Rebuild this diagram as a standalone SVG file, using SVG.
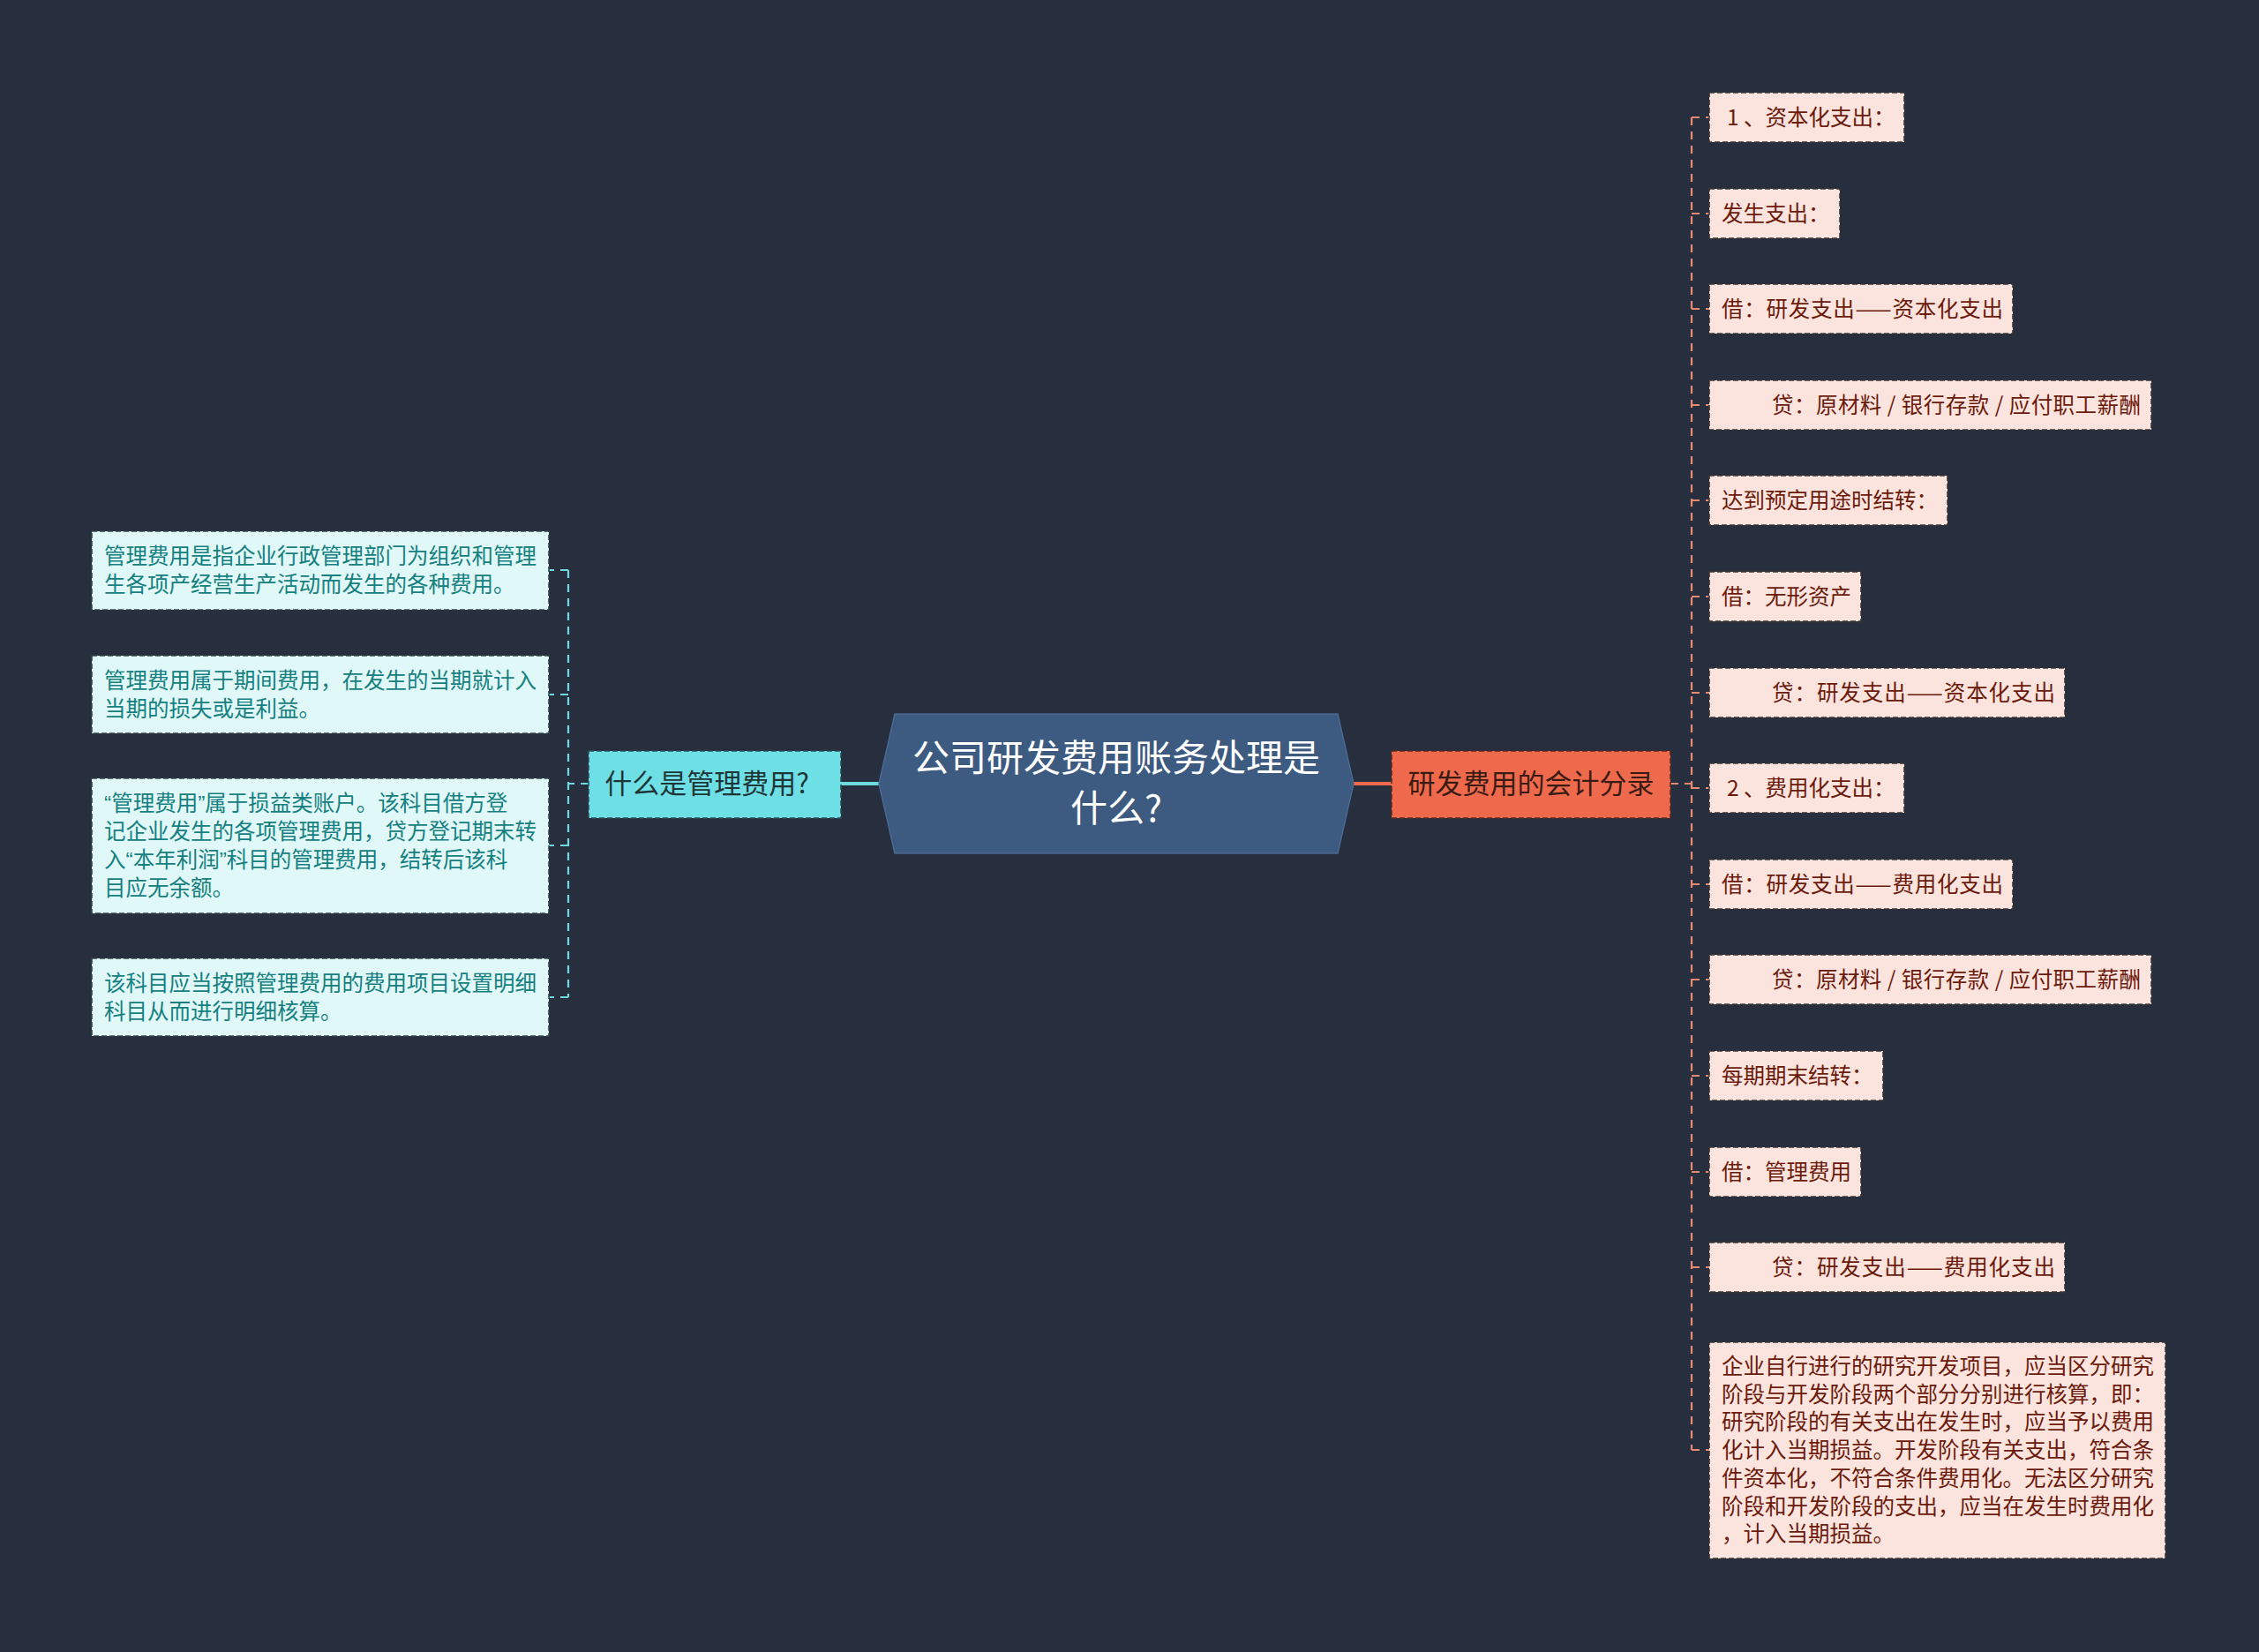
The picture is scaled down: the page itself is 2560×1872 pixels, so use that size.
<svg xmlns="http://www.w3.org/2000/svg" width="2560" height="1872" viewBox="0 0 2560 1872">
<style>
.t{font-family:"Noto Sans CJK SC","Noto Sans",sans-serif}
.q{font-family:"Liberation Sans",sans-serif}
.rc rect{fill:#FCE4DE;stroke:#3b3434;stroke-width:1.6;stroke-dasharray:6 3}
.rc text{fill:#6B1A0C;font-size:24.5px}
.lc rect{fill:#E0F8F8;stroke:#2f4447;stroke-width:1.6;stroke-dasharray:6 3}
.lc text{fill:#15807F;font-size:24.5px}
.cr{fill:none;stroke:#E88A70;stroke-width:2.2;stroke-dasharray:9 7}
.cl{fill:none;stroke:#6CD9E0;stroke-width:2.2;stroke-dasharray:9 7}
</style>
<rect width="2560" height="1872" fill="#272F3F"/>
<g id="connectors">
  <path d="M953 888 H996" fill="none" stroke="#6CD9E0" stroke-width="4"/>
  <path d="M1534 888 H1577" fill="none" stroke="#EF6A4C" stroke-width="4"/>
  <path class="cl" d="M667 888 H644"/>
  <path class="cl" d="M644 646 V1130"/>
  <path class="cl" d="M644 646 H622 M644 787 H622 M644 958 H622 M644 1130 H622"/>
  <path class="cr" d="M1893 888 H1917"/>
  <path class="cr" d="M1917 133 V1643"/>
  <path class="cr" d="M1917 133 H1937 M1917 242 H1937 M1917 350 H1937 M1917 459 H1937 M1917 567 H1937 M1917 676 H1937 M1917 785 H1937 M1917 893 H1937 M1917 1002 H1937 M1917 1110 H1937 M1917 1219 H1937 M1917 1328 H1937 M1917 1436 H1937 M1917 1643 H1937"/>
</g>
<g id="center">
  <polygon points="996,888 1014,809 1516,809 1534,888 1516,967 1014,967" fill="#3D5A80" stroke="#4a6890" stroke-width="1.5"/>
  <text class="t" x="1265" y="874" font-size="42" fill="#FFFFFF" text-anchor="middle">公司研发费用账务处理是</text>
  <text class="t" x="1265" y="931" font-size="42" fill="#FFFFFF" text-anchor="middle">什么?</text>
</g>
<g id="left-branch">
  <rect x="667" y="851" width="286" height="76" fill="#6EDFE4" stroke="#2a4e58" stroke-width="1.6" stroke-dasharray="6 3"/>
  <text class="t" x="801" y="899" font-size="31" fill="#1E3538" text-anchor="middle">什么是管理费用?</text>
</g>
<g id="right-branch">
  <rect x="1577" y="851" width="316" height="76" fill="#EF6A4C" stroke="#5a2a20" stroke-width="1.6" stroke-dasharray="6 3"/>
  <text class="t" x="1735" y="899" font-size="31" fill="#3A1B14" text-anchor="middle">研发费用的会计分录</text>
</g>
<g id="l1" class="lc t"><rect x="104" y="602" width="518" height="89"/><text x="118" y="639">管理费用是指企业行政管理部门为组织和管理</text><text x="118" y="671">生各项产经营生产活动而发生的各种费用。</text></g>
<g id="l2" class="lc t"><rect x="104" y="743" width="518" height="88"/><text x="118" y="780">管理费用属于期间费用，在发生的当期就计入</text><text x="118" y="812">当期的损失或是利益。</text></g>
<g id="l3" class="lc t"><rect x="104" y="882" width="518" height="153"/><text x="118" y="919"><tspan class="q">“</tspan>管理费用<tspan class="q">”</tspan>属于损益类账户。该科目借方登</text><text x="118" y="951">记企业发生的各项管理费用，贷方登记期末转</text><text x="118" y="983">入<tspan class="q">“</tspan>本年利润<tspan class="q">”</tspan>科目的管理费用，结转后该科</text><text x="118" y="1015">目应无余额。</text></g>
<g id="l4" class="lc t"><rect x="104" y="1086" width="518" height="88"/><text x="118" y="1123">该科目应当按照管理费用的费用项目设置明细</text><text x="118" y="1155">科目从而进行明细核算。</text></g>
<g id="r1" class="rc t"><rect x="1937" y="105" width="221" height="56"/><text x="1957" y="142">1 、资本化支出：</text></g>
<g id="r2" class="rc t"><rect x="1937" y="214" width="148" height="56"/><text x="1951" y="251">发生支出：</text></g>
<g id="r3" class="rc t"><rect x="1937" y="322" width="344" height="56"/><text x="1951" y="359" textLength="319" lengthAdjust="spacing">借：研发支出——资本化支出</text></g>
<g id="r4" class="rc t"><rect x="1937" y="431" width="501" height="56"/><text x="2008" y="468" textLength="418" lengthAdjust="spacing">贷：原材料 / 银行存款 / 应付职工薪酬</text></g>
<g id="r5" class="rc t"><rect x="1937" y="539" width="270" height="56"/><text x="1951" y="576">达到预定用途时结转：</text></g>
<g id="r6" class="rc t"><rect x="1937" y="648" width="172" height="56"/><text x="1951" y="685">借：无形资产</text></g>
<g id="r7" class="rc t"><rect x="1937" y="757" width="403" height="56"/><text x="2008" y="794" textLength="321" lengthAdjust="spacing">贷：研发支出——资本化支出</text></g>
<g id="r8" class="rc t"><rect x="1937" y="865" width="221" height="56"/><text x="1957" y="902">2 、费用化支出：</text></g>
<g id="r9" class="rc t"><rect x="1937" y="974" width="344" height="56"/><text x="1951" y="1011" textLength="319" lengthAdjust="spacing">借：研发支出——费用化支出</text></g>
<g id="r10" class="rc t"><rect x="1937" y="1082" width="501" height="56"/><text x="2008" y="1119" textLength="418" lengthAdjust="spacing">贷：原材料 / 银行存款 / 应付职工薪酬</text></g>
<g id="r11" class="rc t"><rect x="1937" y="1191" width="197" height="56"/><text x="1951" y="1228">每期期末结转：</text></g>
<g id="r12" class="rc t"><rect x="1937" y="1300" width="172" height="56"/><text x="1951" y="1337">借：管理费用</text></g>
<g id="r13" class="rc t"><rect x="1937" y="1408" width="403" height="56"/><text x="2008" y="1445" textLength="321" lengthAdjust="spacing">贷：研发支出——费用化支出</text></g>
<g id="r14" class="rc t"><rect x="1937" y="1521" width="517" height="245"/><text x="1951" y="1557">企业自行进行的研究开发项目，应当区分研究</text><text x="1951" y="1589">阶段与开发阶段两个部分分别进行核算，即：</text><text x="1951" y="1620">研究阶段的有关支出在发生时，应当予以费用</text><text x="1951" y="1652">化计入当期损益。开发阶段有关支出，符合条</text><text x="1951" y="1684">件资本化，不符合条件费用化。无法区分研究</text><text x="1951" y="1716">阶段和开发阶段的支出，应当在发生时费用化</text><text x="1951" y="1747">，计入当期损益。</text></g>
</svg>
